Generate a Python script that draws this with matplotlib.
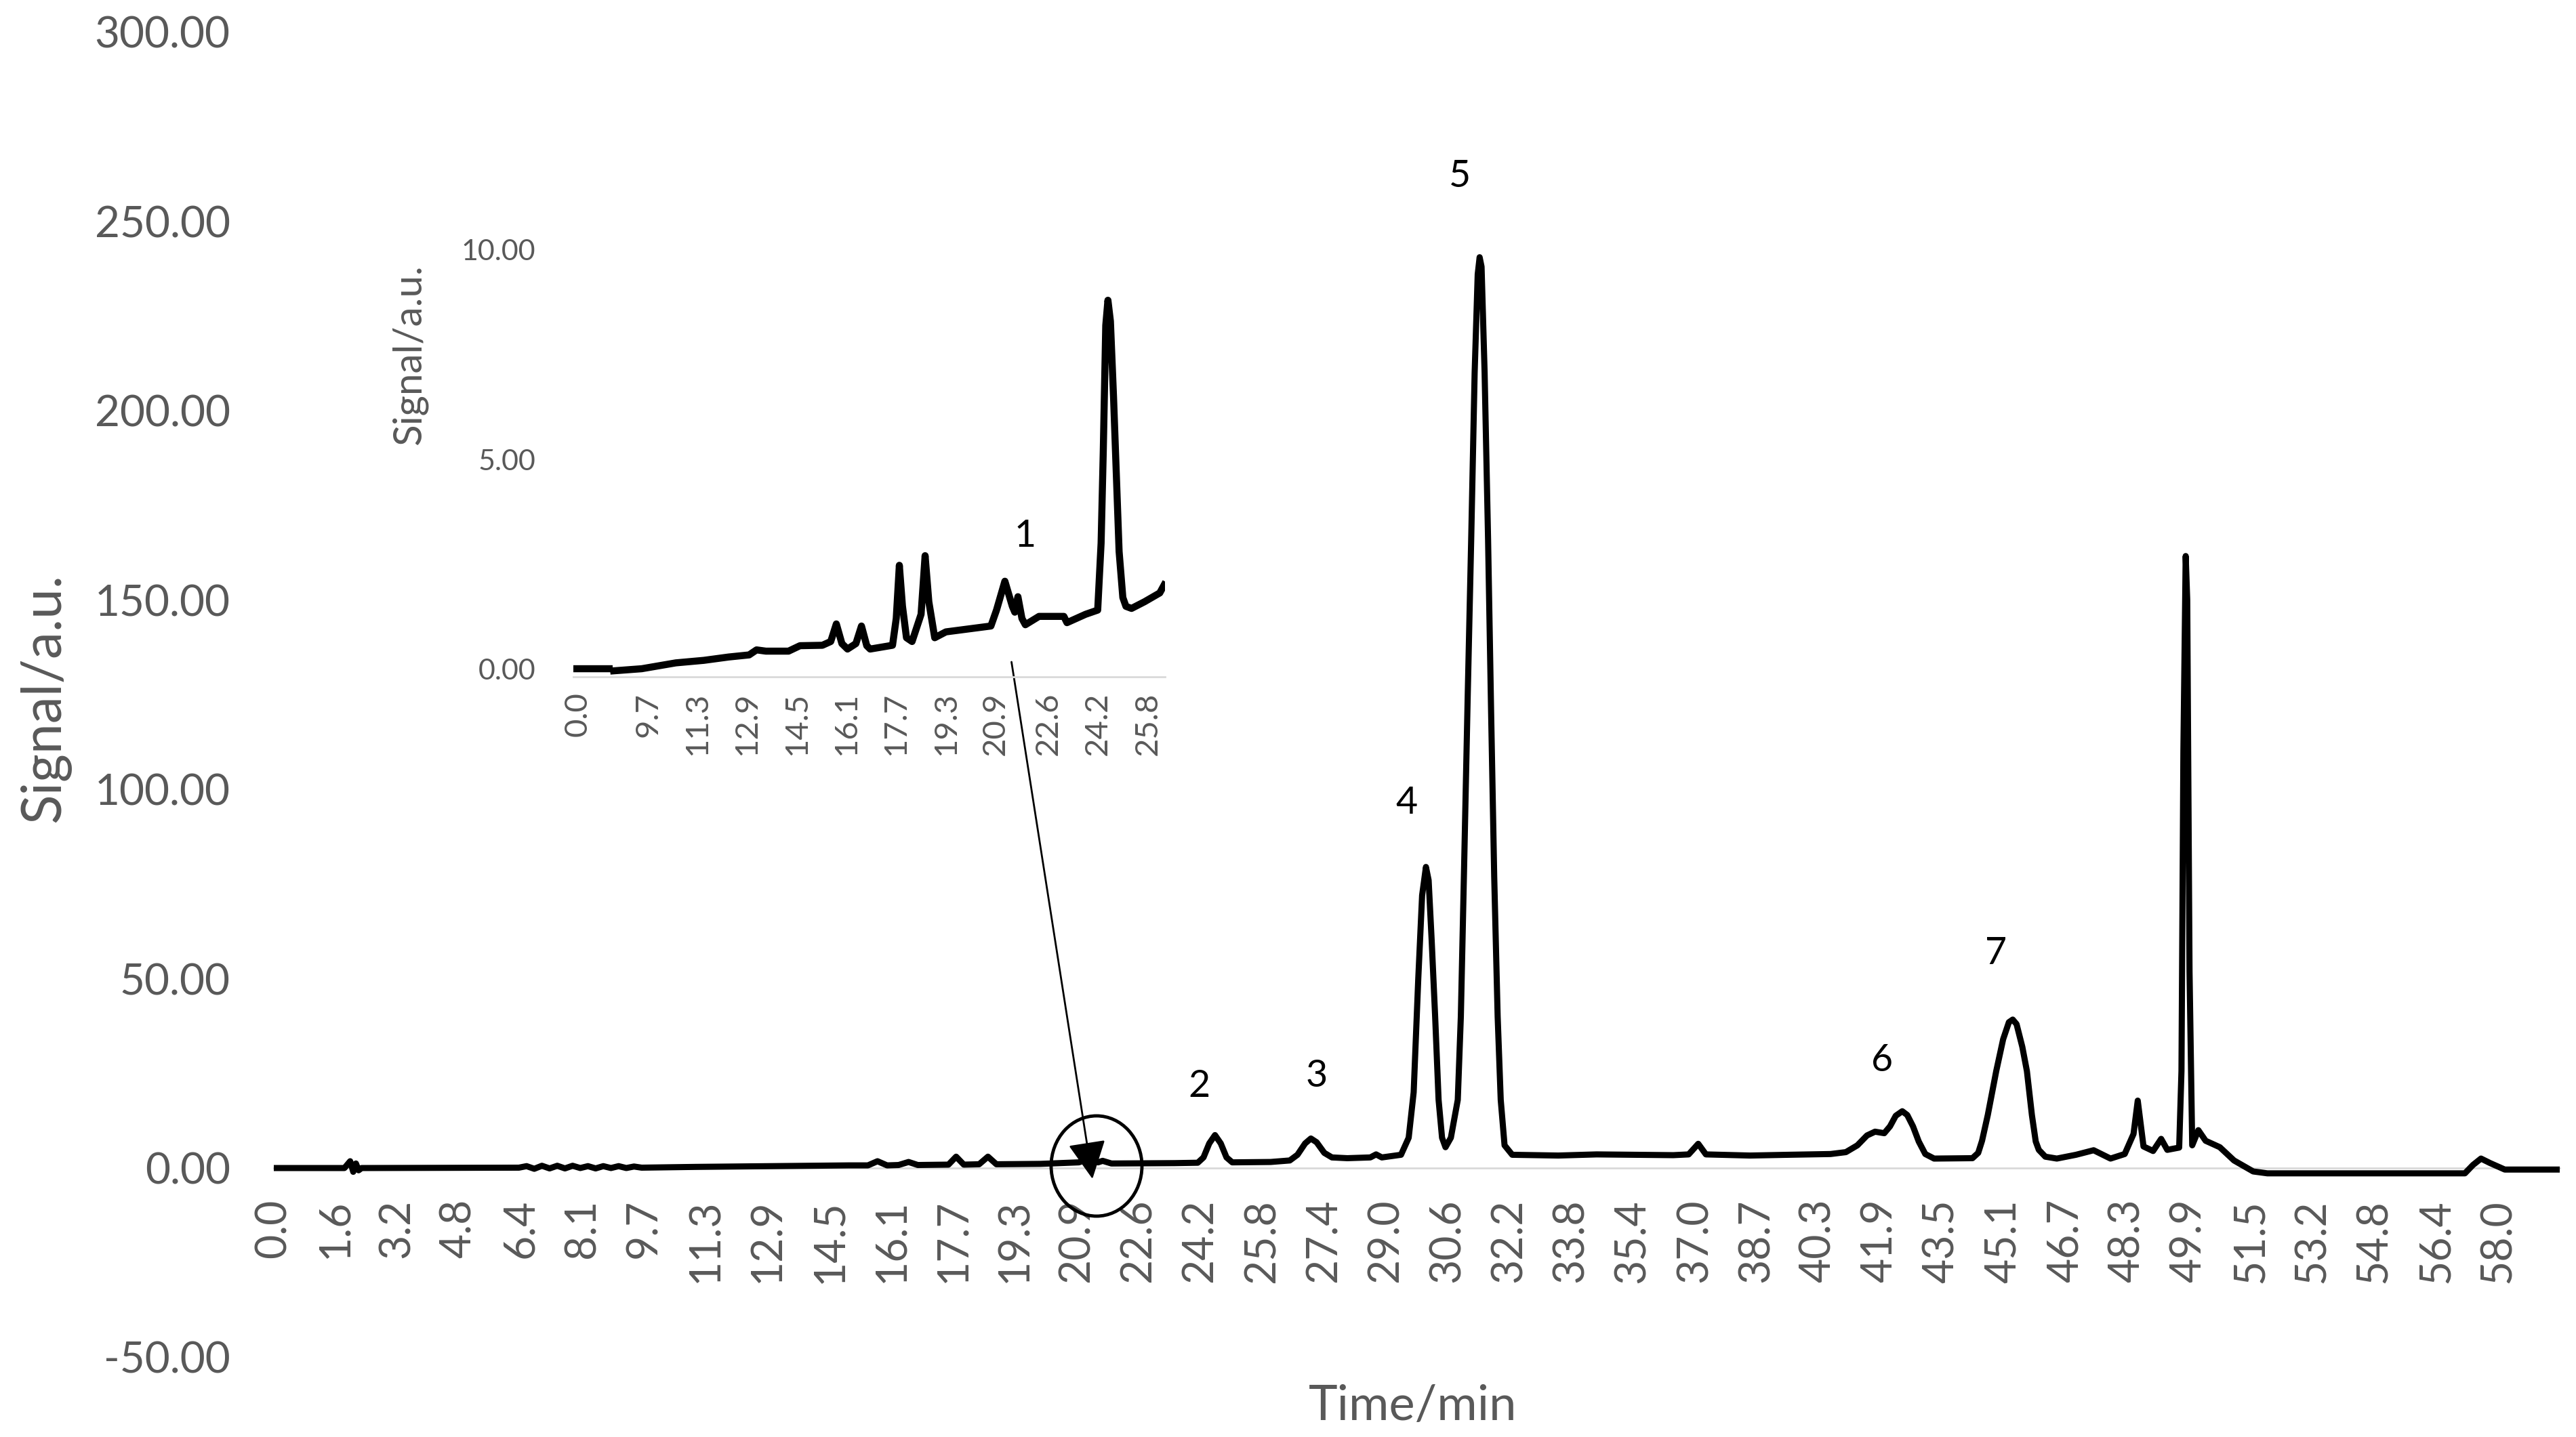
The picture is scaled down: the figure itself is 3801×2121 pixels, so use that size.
import matplotlib
matplotlib.use("Agg")
import matplotlib.pyplot as plt
from matplotlib.patches import Ellipse
from matplotlib.ticker import FormatStrFormatter

plt.rcParams['font.family'] = ['Lato', 'DejaVu Sans']

# main chromatogram (time in min, signal in a.u.)
main_time = [0.0, 1.85, 2.0, 2.08, 2.15, 2.22, 2.3, 6.4, 6.6, 6.8, 7.0, 7.2, 7.4, 7.6,
             7.8, 8.0, 8.2, 8.4, 8.6, 8.8, 9.0, 9.2, 9.4, 9.6, 11.0, 13.0, 15.0, 15.5,
             15.75, 16.0, 16.3, 16.56, 16.8, 17.6, 17.8, 18.0, 18.4, 18.63, 18.85, 20.0,
             21.0, 21.2, 21.5, 21.62, 21.85, 23.5, 24.1, 24.25, 24.4, 24.55, 24.7, 24.85,
             25.0, 26.0, 26.5, 26.7, 26.9, 27.05, 27.2, 27.4, 27.6, 28.0, 28.6, 28.75,
             28.9, 29.4, 29.6, 29.73, 29.85, 29.95, 30.05, 30.12, 30.2, 30.29, 30.38,
             30.47, 30.56, 30.7, 30.88, 30.96, 31.04, 31.14, 31.23, 31.32, 31.4, 31.45,
             31.5, 31.58, 31.67, 31.75, 31.83, 31.92, 32.0, 32.1, 32.3, 33.5, 34.5, 35.5,
             36.5, 36.9, 37.15, 37.35, 38.5, 39.5, 40.6, 41.0, 41.3, 41.55, 41.76, 42.0,
             42.15, 42.3, 42.47, 42.6, 42.75, 42.9, 43.07, 43.3, 44.3, 44.45, 44.55, 44.7,
             44.92, 45.1, 45.25, 45.35, 45.45, 45.6, 45.72, 45.85, 45.95, 46.03, 46.2,
             46.5, 47.0, 47.46, 47.9, 48.27, 48.5, 48.61, 48.76, 49.01, 49.22, 49.38,
             49.69, 49.75, 49.8, 49.86, 49.9, 49.96, 50.03, 50.19, 50.38, 50.75, 51.12,
             51.62, 51.99, 57.14, 57.35, 57.56, 57.8, 58.18, 59.6]
main_signal = [0.0, 0.0, 1.8, -1.0, 1.2, -0.6, 0.0, 0.1, 0.5, -0.2, 0.6, -0.1, 0.6, -0.1,
               0.6, 0.0, 0.5, -0.1, 0.5, 0.0, 0.5, 0.0, 0.4, 0.1, 0.3, 0.5, 0.7, 0.7,
               1.8, 0.7, 0.8, 1.6, 0.8, 0.9, 3.0, 0.9, 1.0, 3.0, 1.0, 1.1,
               1.5, 2.2, 1.5, 1.9, 1.2, 1.3, 1.4, 2.8, 6.5, 8.7, 6.5, 2.8,
               1.5, 1.6, 2.0, 3.5, 6.5, 7.8, 6.8, 4.0, 2.8, 2.6, 2.8, 3.6,
               2.8, 3.5, 8.0, 20.0, 50.0, 72.0, 79.5, 76.0, 60.0, 40.0, 18.0,
               8.0, 5.5, 8.0, 18.0, 40.0, 77.0, 125.0, 166.0, 210.0, 236.0, 240.5,
               238.0, 210.0, 166.0, 120.0, 77.0, 40.0, 18.0, 6.0, 3.5, 3.3, 3.6, 3.5,
               3.4, 3.6, 6.4, 3.6, 3.3, 3.5, 3.7, 4.2, 6.0, 8.6, 9.6, 9.2,
               11.0, 13.8, 15.0, 14.0, 11.0, 7.0, 3.7, 2.5, 2.6, 4.0, 7.2, 14.0,
               25.6, 34.0, 38.5, 39.2, 38.0, 32.0, 25.6, 14.0, 7.0, 4.8, 3.0,
               2.5, 3.5, 4.7, 2.5, 3.7, 9.0, 17.8, 5.7, 4.5, 7.7, 4.8,
               5.4, 25.6, 110.0, 161.6, 150.0, 52.0, 6.0, 10.0, 7.2, 5.5, 2.0,
               -0.9, -1.4, -1.4, 0.8, 2.5, 1.3, -0.4, -0.4]

main_tick_labels = ['0.0', '1.6', '3.2', '4.8', '6.4', '8.1', '9.7', '11.3', '12.9', '14.5',
                    '16.1', '17.7', '19.3', '20.9', '22.6', '24.2', '25.8', '27.4', '29.0',
                    '30.6', '32.2', '33.8', '35.4', '37.0', '38.7', '40.3', '41.9', '43.5',
                    '45.1', '46.7', '48.3', '49.9', '51.5', '53.2', '54.8', '56.4', '58.0']
main_yticks = [-50, 0, 50, 100, 150, 200, 250, 300]

# zoomed inset (0-26 min region), its own trace
inset_time = [7.34, 8.45, 8.5, 8.6, 9.5, 10.6, 11.5, 12.3, 12.96, 13.2, 13.5, 14.23, 14.6,
              15.32, 15.59, 15.77, 15.95, 16.13, 16.4, 16.58, 16.75, 16.86, 17.58, 17.7,
              17.8, 17.9, 18.03, 18.21, 18.5, 18.63, 18.75, 18.94, 19.3, 20.75, 20.93,
              21.2, 21.44, 21.52, 21.62, 21.75, 21.86, 22.3, 23.1, 23.2, 23.8, 24.19,
              24.3, 24.37, 24.45, 24.52, 24.6, 24.7, 24.88, 25.0, 25.1, 25.28, 25.7,
              26.19, 26.33]
inset_signal = [0.0, 0.0, float('nan'), -0.05, 0.0, 0.14, 0.2, 0.28, 0.33, 0.45, 0.42, 0.42,
                0.55, 0.56, 0.65, 1.07, 0.6, 0.47, 0.6, 1.02, 0.55, 0.47, 0.56, 1.2,
                2.47, 1.5, 0.74, 0.65, 1.3, 2.7, 1.6, 0.74, 0.88, 1.02, 1.4,
                2.09, 1.49, 1.35, 1.72, 1.2, 1.05, 1.25, 1.25, 1.1, 1.3, 1.4,
                3.0, 5.2, 8.2, 8.8, 8.3, 6.5, 2.8, 1.7, 1.49, 1.44, 1.6,
                1.81, 2.0]
inset_tick_pos = [7.44, 9.7, 11.3, 12.9, 14.5, 16.1, 17.7, 19.3, 20.9, 22.6, 24.2, 25.8]
inset_tick_labels = ['0.0', '9.7', '11.3', '12.9', '14.5', '16.1', '17.7', '19.3', '20.9',
                     '22.6', '24.2', '25.8']
inset_yticks = [0, 5, 10]

# peak numbers
peak_names = ['2', '3', '4', '5', '6', '7']
peak_x = [24.13, 27.2, 29.55, 30.93, 41.94, 44.92]
peak_y = [21.6, 24.3, 96.4, 261.9, 28.4, 56.6]

grey = '#595959'
W, H = 3801, 2121

fig = plt.figure(figsize=(W / 100, H / 100), dpi=100)

# main axes
ax = fig.add_axes([0.10616, 0.0554, 0.88763, 0.9224])
ax.plot(main_time, main_signal, color='black', lw=6.5, zorder=3,
        solid_joinstyle='round')
ax.set_xlim(0, 59.62)
ax.set_ylim(-50, 300)
for s in ['top', 'right', 'left']:
    ax.spines[s].set_visible(False)
# x axis sits on y = 0 (set before the ticks, it resets them)
ax.spines['bottom'].set_position(('data', 0))
ax.spines['bottom'].set_color('#d9d9d9')
ax.spines['bottom'].set_linewidth(2)
ax.set_yticks(main_yticks)
ax.yaxis.set_major_formatter(FormatStrFormatter('%.2f'))
ax.set_xticks([i * 58 / 36 for i in range(len(main_tick_labels))])
ax.set_xticklabels(main_tick_labels)
ax.tick_params(axis='y', length=0, pad=46, labelsize=46, labelcolor=grey)
ax.tick_params(axis='x', length=0, pad=33, labelsize=45, labelcolor=grey,
               labelrotation=90)

for name, px, py in zip(peak_names, peak_x, peak_y):
    ax.text(px, py, name, ha='center', va='center', fontsize=40, color='black')

fig.text(2085 / W, 0.0118, 'Time/min', ha='center', va='baseline',
         fontsize=52, color=grey)
fig.text(66 / W, 0.5144, 'Signal/a.u.', rotation=90, ha='center', va='center',
         fontsize=58, color=grey)

# inset
ax_in = fig.add_axes([0.2226, 0.52881, 0.22955, 0.29722])
ax_in.set_facecolor('none')
ax_in.plot(inset_time, inset_signal, color='black', lw=7.5, zorder=3)
ax_in.set_xlim(7.3, 26.35)
ax_in.set_ylim(-0.2, 10)
for s in ['top', 'right', 'left']:
    ax_in.spines[s].set_visible(False)
ax_in.spines['bottom'].set_color('#d9d9d9')
ax_in.spines['bottom'].set_linewidth(2)
ax_in.set_yticks(inset_yticks)
ax_in.yaxis.set_major_formatter(FormatStrFormatter('%.2f'))
ax_in.set_xticks(inset_tick_pos)
ax_in.set_xticklabels(inset_tick_labels)
ax_in.tick_params(axis='y', length=0, pad=40, labelsize=31, labelcolor=grey)
ax_in.tick_params(axis='x', length=0, pad=16, labelsize=34, labelcolor=grey,
                  labelrotation=90)
ax_in.text(21.86, 3.17, '1', ha='center', va='center', fontsize=40, color='black')
fig.text(604 / W, 1 - 524 / H, 'Signal/a.u.', rotation=90, ha='center', va='center',
         fontsize=42, color=grey)

# circle and arrow pointing to the zoomed region
fig.add_artist(Ellipse((1618 / W, 1 - 1721 / H), 134 / W, 148 / H,
                       transform=fig.transFigure, fill=False, lw=3.5,
                       edgecolor='black'))
ax.annotate('', xy=(1612 / W, 1 - 1740 / H), xycoords='figure fraction',
            xytext=(1492.5 / W, 1 - 977 / H), textcoords='figure fraction',
            arrowprops=dict(arrowstyle='-|>,head_length=2.2,head_width=1.1',
                            mutation_scale=16, lw=2, color='black',
                            shrinkA=0, shrinkB=0))

plt.savefig('out.png', dpi=100)
plt.close()
